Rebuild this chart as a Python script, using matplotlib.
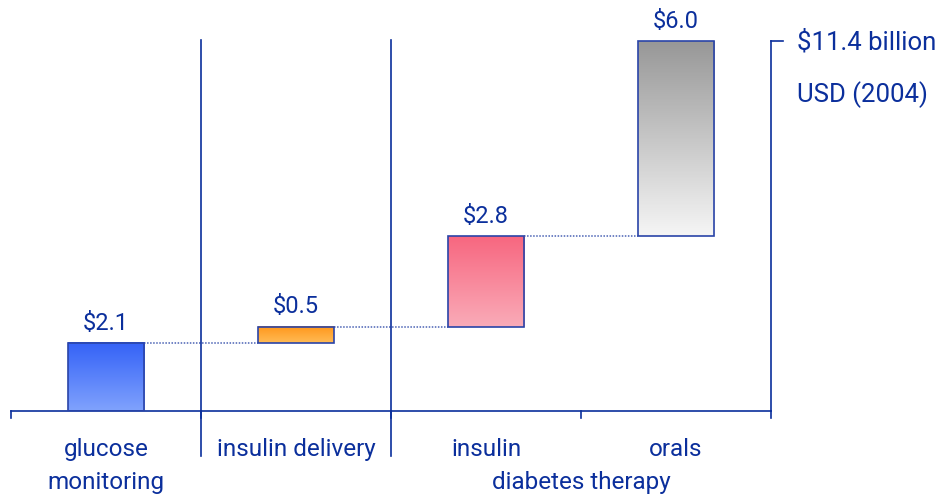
import numpy as np
import matplotlib.pyplot as plt
from matplotlib.colors import LinearSegmentedColormap
from matplotlib.patches import Rectangle

plt.rcParams['font.family'] = ['Roboto', 'DejaVu Sans']

# market segments, USD billions (2004)
segments = ['glucose\nmonitoring', 'insulin delivery', 'insulin', 'orals']
values = [2.1, 0.5, 2.8, 6.0]
value_labels = ['$2.1', '$0.5', '$2.8', '$6.0']
total_label = '$11.4 billion'
unit_label = 'USD (2004)'
group_label = 'diabetes therapy'

# gradient colours (top, bottom) per bar
grad = [('#3462f7', '#80a2fd'),
        ('#ff971c', '#ffbb55'),
        ('#f76780', '#faabb8'),
        ('#989898', '#f5f5f5')]

navy = '#0b2f9c'
edge = '#2a44a8'

fig = plt.figure(figsize=(9.46, 4.97), dpi=100)
ax = fig.add_axes([11 / 946, 86 / 497, 760 / 946, 411 / 497])
ax.set_xlim(-0.5, 3.5)
ax.set_ylim(0, 12.68)
ax.axis('off')

width = 0.4
bottoms = np.concatenate([[0], np.cumsum(values)[:-1]])
tops = bottoms + np.array(values)

for i, (b, t) in enumerate(zip(bottoms, tops)):
    cmap = LinearSegmentedColormap.from_list('g%d' % i, [grad[i][1], grad[i][0]])
    ramp = np.linspace(0, 1, 100).reshape(-1, 1)
    ax.imshow(ramp, cmap=cmap, origin='lower', aspect='auto',
              extent=(i - width / 2, i + width / 2, b, t), zorder=2)
    ax.add_patch(Rectangle((i - width / 2, b), width, t - b, fill=False,
                           ec=edge, lw=1.2, zorder=3))
    ax.annotate(value_labels[i], (i, t), xytext=(0, 6), textcoords='offset points',
                ha='center', va='bottom', color=navy, fontsize=17)

# dotted connectors between successive bars
for i in range(len(values) - 1):
    ax.plot([i + width / 2, i + 1 - width / 2], [tops[i], tops[i]],
            ls=(0, (1, 1)), color='#4a62b4', lw=1.1, zorder=1)

# baseline and ticks
ax.plot([-0.5, 3.5], [0, 0], color=navy, lw=1.2, clip_on=False)
for x in [-0.5, 0.5, 1.5, 2.5, 3.5]:
    ax.plot([x, x], [0, -0.22], color=navy, lw=1.2, clip_on=False)

# section separators
for x in [0.5, 1.5]:
    ax.plot([x, x], [-1.38, 11.45], color=navy, lw=1.2, clip_on=False)

# total bracket
ax.plot([3.5, 3.5], [0, tops[-1]], color=navy, lw=1.2, clip_on=False)
ax.plot([3.5, 3.565], [tops[-1], tops[-1]], color=navy, lw=1.2, clip_on=False)
fig.text(797 / 946, 1 - 42 / 497, total_label, ha='left', va='center',
         color=navy, fontsize=18.5)
fig.text(797 / 946, 1 - 95 / 497, unit_label, ha='left', va='center',
         color=navy, fontsize=18.5)

# category labels
fs = 17.5
ax.text(0, -1.2, 'glucose', ha='center', va='center', color=navy, fontsize=fs)
ax.text(0, -2.2, 'monitoring', ha='center', va='center', color=navy, fontsize=fs)
ax.text(1, -1.2, segments[1], ha='center', va='center', color=navy, fontsize=fs)
ax.text(2, -1.2, segments[2], ha='center', va='center', color=navy, fontsize=fs)
ax.text(3, -1.2, segments[3], ha='center', va='center', color=navy, fontsize=fs)
ax.text(2.5, -2.2, group_label, ha='center', va='center', color=navy, fontsize=fs)

fig.savefig('out.png', dpi=100)
